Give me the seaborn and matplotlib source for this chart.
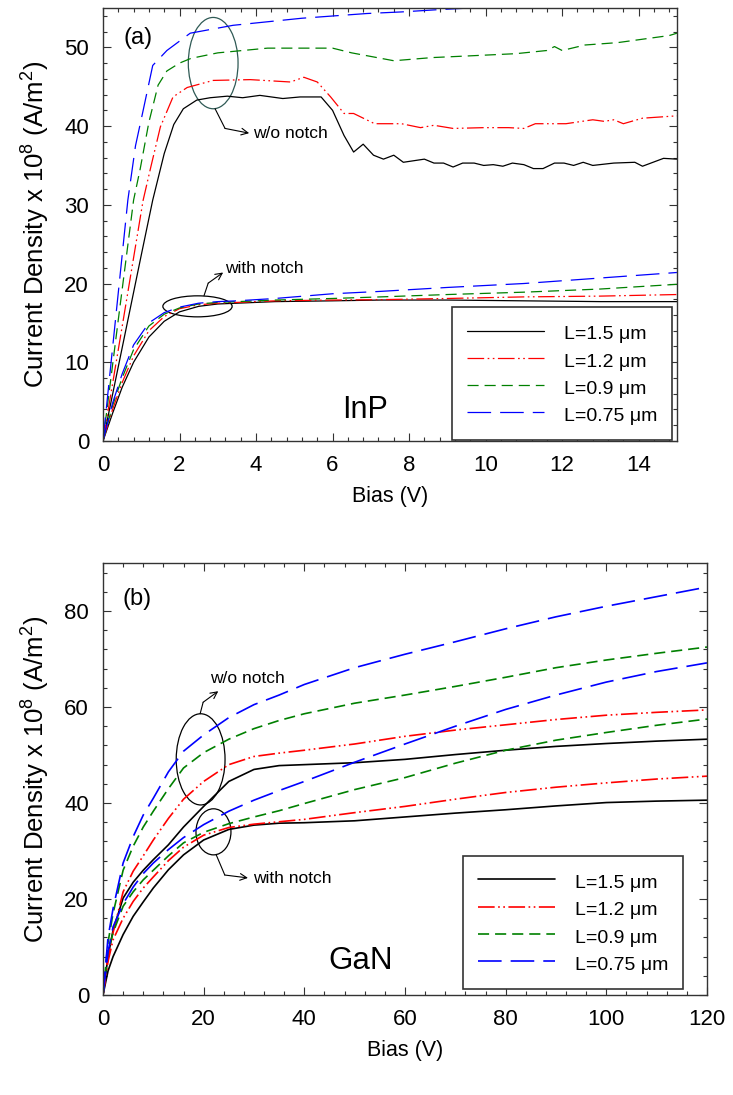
import matplotlib
matplotlib.use('Agg')
import matplotlib.pyplot as plt
from matplotlib.patches import Ellipse
from matplotlib.ticker import MultipleLocator
import seaborn as sns

# ---- data: (a) InP ----
L_LABELS = ['L=1.5 \u03bcm', 'L=1.2 \u03bcm', 'L=0.9 \u03bcm', 'L=0.75 \u03bcm']

inp_wo_x_15 = [0, 0.5, 1.0, 1.3, 1.6, 1.85, 2.1, 2.45, 2.8, 3.25, 3.65, 4.1, 4.7, 5.15, 5.7,
               6.0, 6.3, 6.55, 6.8, 7.07, 7.33, 7.6, 7.85, 8.4, 8.65, 8.9, 9.15, 9.4, 9.7,
               9.95, 10.2, 10.45, 10.7, 11.0, 11.25, 11.5, 11.8, 12.05, 12.3, 12.55, 12.8,
               13.35, 13.9, 14.1, 14.65, 15.0]
inp_wo_y_15 = [0, 11.8, 23.6, 30.6, 36.5, 40.2, 42.2, 43.3, 43.6, 43.8, 43.6, 43.9, 43.5, 43.7,
               43.7, 42.0, 38.8, 36.7, 37.7, 36.3, 35.8, 36.3, 35.4, 35.8, 35.3, 35.3, 34.8,
               35.3, 35.3, 35.0, 35.1, 34.9, 35.3, 35.1, 34.6, 34.6, 35.3, 35.3, 35.0, 35.4,
               35.0, 35.3, 35.4, 34.9, 35.9, 35.8]
inp_wo_x_12 = [0, 0.5, 1.05, 1.25, 1.5, 1.83, 2.2, 2.88, 3.85, 4.9, 5.25, 5.6, 5.95, 6.3, 6.55,
               7.1, 7.8, 8.3, 8.65, 9.15, 9.95, 10.6, 11.0, 11.3, 12.1, 12.8, 13.1, 13.35, 13.6,
               14.1, 15.0]
inp_wo_y_12 = [0, 14.5, 30.6, 34.8, 39.9, 43.7, 44.9, 45.8, 45.9, 45.6, 46.2, 45.6, 43.7, 41.6,
               41.6, 40.3, 40.3, 39.8, 40.1, 39.7, 39.8, 39.8, 39.7, 40.3, 40.3, 40.8, 40.6,
               40.8, 40.3, 41.0, 41.3]
inp_wo_x_09 = [0, 0.4, 0.8, 0.97, 1.2, 1.44, 1.67, 2.0, 2.3, 3.0, 4.3, 5.3, 6.0, 6.5, 7.6, 8.6,
               9.5, 10.8, 11.6, 11.8, 12.0, 12.6, 13.45, 13.9, 14.8, 15.0]
inp_wo_y_09 = [0, 15.4, 30.6, 34.5, 40.5, 45.2, 47.0, 48.0, 48.6, 49.3, 49.9, 49.9, 49.9, 49.3,
               48.3, 48.7, 48.9, 49.2, 49.6, 50.1, 49.6, 50.3, 50.6, 50.9, 51.5, 51.8]
inp_wo_x_075 = [0, 0.35, 0.65, 0.85, 1.05, 1.3, 1.67, 2.28, 3.4, 5.2, 6.9, 7.8, 8.8, 9.6, 10.5]
inp_wo_y_075 = [0, 16.5, 30.6, 37.5, 42.0, 47.7, 49.6, 51.8, 52.8, 53.7, 54.3, 54.5, 54.8, 55.0, 55.4]

inp_w_x = [0, 0.25, 0.5, 0.8, 1.2, 1.6, 2.0, 2.5, 3.0, 3.5, 4.5, 6, 7.25, 9, 11, 13, 15]
inp_w_y_15 = [0, 3.5, 6.8, 10.0, 13.2, 15.2, 16.4, 17.1, 17.4, 17.5, 17.7, 17.8, 17.9, 17.9, 17.8, 17.7, 17.7]
inp_w_y_12 = [0, 4.0, 7.4, 10.8, 14.0, 15.8, 16.8, 17.3, 17.5, 17.6, 17.8, 17.9, 17.95, 18.1, 18.3, 18.4, 18.6]
inp_w_y_09 = [0, 4.5, 8.0, 11.6, 14.6, 16.1, 16.9, 17.4, 17.6, 17.7, 17.9, 18.1, 18.3, 18.6, 18.9, 19.3, 19.9]
inp_w_y_075 = [0, 4.8, 8.5, 12.2, 15.0, 16.3, 17.0, 17.5, 17.7, 17.8, 18.1, 18.7, 19.0, 19.5, 20.0, 20.7, 21.4]

# ---- data: (b) GaN ----
gan_x = [0, 1, 2, 4, 6, 8, 10, 13, 16, 20, 25, 30, 35, 40, 50, 60, 70, 80, 90, 100, 110, 120]
gan_wo_15 = [0, 8, 13.5, 20.2, 23.5, 26, 28.2, 31.3, 35, 39.3, 44.5, 47, 47.8, 48, 48.4, 49.1,
             50.1, 51, 51.8, 52.4, 52.9, 53.3]
gan_wo_12 = [0, 8, 13, 21.5, 25.8, 29, 32.3, 36.8, 40.8, 44.5, 48, 49.7, 50.4, 51, 52.3, 53.9,
             55.2, 56.3, 57.4, 58.3, 58.9, 59.4]
gan_wo_09 = [0, 11, 17, 26, 31, 35, 38.3, 43, 47.3, 50.5, 53.3, 55.5, 57.2, 58.6, 60.8, 62.5,
             64.3, 66.2, 68.2, 69.8, 71.2, 72.5]
gan_wo_075 = [0, 12, 18, 27.5, 33, 37.5, 41, 46.5, 50.8, 54.2, 57.8, 60.5, 62.5, 64.7, 68.2, 71,
              73.6, 76.3, 78.8, 81, 83, 85]
gan_w_15 = [0, 5, 8, 12.6, 16.4, 19.4, 22.3, 26.1, 29.2, 32.3, 34.5, 35.4, 35.8, 35.9, 36.3, 37.1,
            37.9, 38.6, 39.4, 40.1, 40.4, 40.6]
gan_w_12 = [0, 7, 11.5, 16, 19.5, 22.3, 24.6, 28, 30.8, 33.3, 34.9, 35.6, 36.1, 36.6, 38, 39.3,
            40.8, 42.2, 43.3, 44.2, 45, 45.6]
gan_w_09 = [0, 9, 13, 18.5, 21.5, 24, 26, 29, 31.7, 33.9, 35.7, 37.1, 38.4, 39.9, 42.8, 45.3,
            48.3, 51, 53.1, 54.7, 56.2, 57.5]
gan_w_075 = [0, 9, 14.2, 19, 22.5, 25.3, 27.5, 30.3, 32.8, 35.5, 38.3, 40.6, 42.6, 44.5, 48.5,
             52.3, 56, 59.5, 62.5, 65.2, 67.4, 69.2]

# styles, one per L
COLORS = ['black', '#ff0000', '#008000', '#0000ff']
DASHES = ['-', (0, (12, 2.5, 1.2, 2.5, 1.2, 2.5)), (0, (8, 4.3)), (0, (17, 6.5))]

sns.set_style('ticks')
plt.rcParams['font.family'] = ['Liberation Sans', 'DejaVu Sans']
plt.rcParams['mathtext.default'] = 'regular'
plt.rcParams['lines.scale_dashes'] = False
plt.rcParams['text.color'] = 'black'
plt.rcParams['axes.labelcolor'] = 'black'

fig = plt.figure(figsize=(7.33, 10.95), dpi=100)
ax_a = fig.add_axes([0.1405, 0.5973, 0.783, 0.3954])
ax_b = fig.add_axes([0.1405, 0.0913, 0.824, 0.3945])


def draw_curves(ax, wo, w, lw):
    handles = []
    for i, ((xw, yw), (xn, yn)) in enumerate(zip(wo, w)):
        sns.lineplot(x=xw, y=yw, ax=ax, color=COLORS[i], linestyle=DASHES[i], lw=lw,
                     sort=False, estimator=None)
        sns.lineplot(x=xn, y=yn, ax=ax, color=COLORS[i], linestyle=DASHES[i], lw=lw,
                     sort=False, estimator=None)
        handles.append(ax.lines[-1])
    return handles


def style_axes(ax, xlim, ylim, xmaj, xmin, ymaj, ymin):
    ax.set_xlim(*xlim)
    ax.set_ylim(*ylim)
    ax.xaxis.set_major_locator(MultipleLocator(xmaj))
    ax.xaxis.set_minor_locator(MultipleLocator(xmin))
    ax.yaxis.set_major_locator(MultipleLocator(ymaj))
    ax.yaxis.set_minor_locator(MultipleLocator(ymin))
    ax.tick_params(which='both', direction='in', top=True, right=True, width=0.8,
                   labelsize=16, pad=10, color='#333333', labelcolor='black')
    ax.tick_params(which='major', length=5.5)
    ax.tick_params(which='minor', length=3)
    for s in ax.spines.values():
        s.set_linewidth(1.0)
        s.set_color('#333333')
    ax.set_xlabel('Bias (V)', fontsize=15.5, labelpad=7)
    ax.set_ylabel('Current Density x 10$^{8}$ (A/m$^{2}$)', fontsize=18.5, labelpad=9)


def add_legend(ax, handles, anchor):
    leg = ax.legend(handles, L_LABELS, loc='lower right', bbox_to_anchor=anchor,
                    borderaxespad=0, frameon=True, fancybox=False, framealpha=1,
                    edgecolor='#333333', fontsize=14, handlelength=4.0, handletextpad=1.0,
                    handleheight=1.35, labelspacing=0.28, borderpad=0.75)
    leg.get_frame().set_linewidth(1.2)


def bent_note(ax, text, p0, p1, p2, tpos, color='black'):
    ax.annotate('', xy=p1, xytext=p0,
                arrowprops=dict(arrowstyle='-', color=color, lw=0.8, shrinkA=0, shrinkB=0))
    ax.annotate('', xy=p2, xytext=p1,
                arrowprops=dict(arrowstyle='->', color=color, lw=0.8, shrinkA=0, shrinkB=0,
                                mutation_scale=12))
    ax.text(tpos[0], tpos[1], text, fontsize=12.5, va='center', ha='left')


# ---- panel (a) ----
h_a = draw_curves(
    ax_a,
    [(inp_wo_x_15, inp_wo_y_15), (inp_wo_x_12, inp_wo_y_12),
     (inp_wo_x_09, inp_wo_y_09), (inp_wo_x_075, inp_wo_y_075)],
    [(inp_w_x, inp_w_y_15), (inp_w_x, inp_w_y_12), (inp_w_x, inp_w_y_09), (inp_w_x, inp_w_y_075)],
    lw=0.9)
style_axes(ax_a, (0, 15), (0, 55), 2, 0.4, 10, 2)
add_legend(ax_a, h_a, (0.991, 0.002))
ax_a.add_patch(Ellipse((2.88, 48.0), 1.3, 11.6, fill=False, edgecolor='#2f5a55', lw=0.9))
ax_a.add_patch(Ellipse((2.47, 17.1), 1.81, 2.67, fill=False, edgecolor='black', lw=0.9))
bent_note(ax_a, 'w/o notch', (2.93, 42.2), (3.19, 39.7), (3.82, 39.1), (3.92, 39.1))
bent_note(ax_a, 'with notch', (2.64, 18.45), (2.75, 20.05), (3.14, 21.4), (3.2, 21.95))
ax_a.text(0.035, 0.955, '(a)', transform=ax_a.transAxes, fontsize=17, va='top', ha='left')
ax_a.text(0.416, 0.053, 'InP', transform=ax_a.transAxes, fontsize=22, va='baseline', ha='left')

# ---- panel (b) ----
h_b = draw_curves(
    ax_b,
    [(gan_x, gan_wo_15), (gan_x, gan_wo_12), (gan_x, gan_wo_09), (gan_x, gan_wo_075)],
    [(gan_x, gan_w_15), (gan_x, gan_w_12), (gan_x, gan_w_09), (gan_x, gan_w_075)],
    lw=1.2)
style_axes(ax_b, (0, 120), (0, 90), 20, 4, 20, 4)
add_legend(ax_b, h_b, (0.960, 0.014))
ax_b.add_patch(Ellipse((19.4, 49.1), 9.7, 19.0, fill=False, edgecolor='black', lw=0.9))
ax_b.add_patch(Ellipse((21.95, 34.0), 6.95, 9.6, fill=False, edgecolor='black', lw=0.9))
bent_note(ax_b, 'w/o notch', (19.3, 58.6), (19.9, 61.0), (22.9, 63.3), (21.3, 66.0))
bent_note(ax_b, 'with notch', (22.5, 29.2), (24.2, 25.0), (28.8, 24.4), (29.8, 24.2))
ax_b.text(0.033, 0.942, '(b)', transform=ax_b.transAxes, fontsize=17, va='top', ha='left')
ax_b.text(0.3725, 0.06, 'GaN', transform=ax_b.transAxes, fontsize=22.5, va='baseline', ha='left')

fig.savefig('out.png', dpi=100, facecolor='white')
